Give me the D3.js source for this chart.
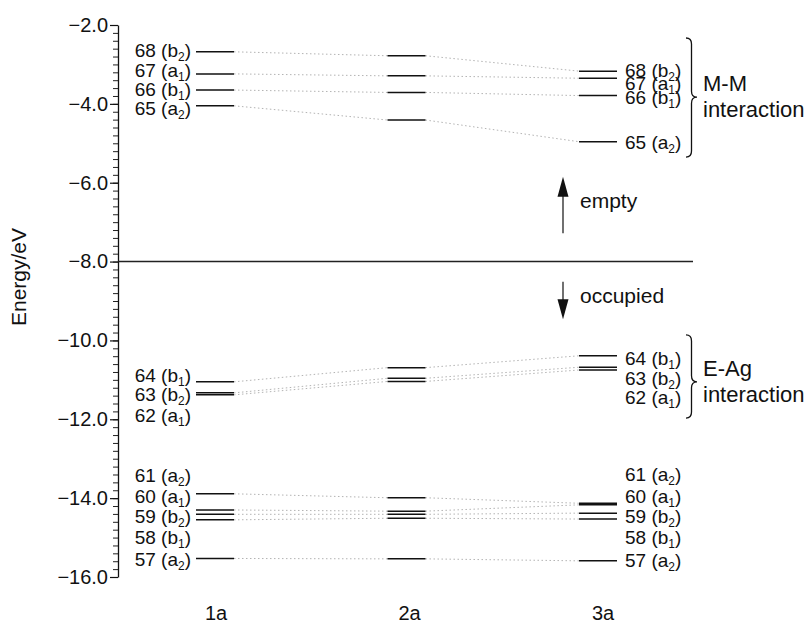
<!DOCTYPE html>
<html>
<head>
<meta charset="utf-8">
<script src="https://cdn.jsdelivr.net/npm/d3@7"></script>
<style>
  body { margin: 0; background: #fff; }
  svg text { font-family: "Liberation Sans", Arial, Helvetica, sans-serif; fill: #111; }
</style>
</head>
<body>
<div id="chart"></div>
<script>
// orbital energies (eV) for each structure, same order in each list
const columns = ['1a', '2a', '3a']
const levels1a = [-2.68, -3.24, -3.65, -4.05, -11.05, -11.33, -11.38, -13.89, -14.30, -14.41, -14.55, -15.53]
const levels2a = [-2.78, -3.29, -3.71, -4.41, -10.69, -10.96, -11.04, -13.99, -14.33, -14.41, -14.51, -15.54]
const levels3a = [-3.17, -3.35, -3.79, -4.96, -10.39, -10.68, -10.75, -14.13, -14.17, -14.38, -14.53, -15.59]

// MO labels
const moNumbers = [68, 67, 66, 65, 64, 63, 62, 61, 60, 59, 58, 57]
const moSym = ['b2', 'a1', 'b1', 'a2', 'b1', 'b2', 'a1', 'a2', 'a1', 'b2', 'b1', 'a2']
// energy where each label sits
const leftLabelE = [-2.63, -3.14, -3.62, -4.10, -10.88, -11.36, -11.89, -13.41, -13.96, -14.45, -14.98, -15.55]
const rightLabelE = [-3.15, -3.47, -3.84, -4.96, -10.45, -10.96, -11.44, -13.39, -13.96, -14.46, -14.98, -15.57]

const majorTicks = [-2, -4, -6, -8, -10, -12, -14, -16]
const fermiE = -8.0

// braces: top, bottom and tip energies, text lines
const braces = [
  {top: -2.33, bottom: -5.35, tip: -3.83, text: ['M-M', 'interaction']},
  {top: -9.86, bottom: -11.97, tip: -11.05, text: ['E-Ag', 'interaction']}
]
// arrows: from / to energies, label and its energy
const arrows = [
  {from: -7.28, to: -5.85, label: 'empty', labelE: -6.48},
  {from: -8.51, to: -9.46, label: 'occupied', labelE: -8.89}
]

const width = 811
const height = 623
const axisX = 118
const half = 19

const svg = d3.select('#chart')
  .append('svg')
  .attr('width', width)
  .attr('height', height)

const y = d3.scaleLinear().domain([-2, -16]).range([25, 577])
const x = d3.scalePoint().domain(columns).range([215, 598])
const xLab = d3.scalePoint().domain(columns).range([216, 603])

// y axis, minor ticks first
const minor = d3.range(-2, -16.01, -0.2)
svg.append('g')
  .attr('transform', `translate(${axisX},0)`)
  .call(d3.axisLeft(y).tickValues(minor).tickSize(5).tickFormat(''))
  .call(g => g.select('.domain').remove())
  .selectAll('line').attr('stroke', '#222').attr('stroke-width', 1)

svg.append('g')
  .attr('transform', `translate(${axisX},0)`)
  .call(d3.axisLeft(y).tickValues(majorTicks).tickSize(8).tickSizeOuter(0).tickPadding(2).tickFormat(d3.format('.1f')))
  .call(g => g.select('.domain').attr('stroke', '#111').attr('stroke-width', 1.3))
  .call(g => g.selectAll('line').attr('stroke', '#111').attr('stroke-width', 1.2))
  .call(g => g.selectAll('text').attr('font-size', 20).attr('fill', '#111')
    .attr('font-family', '"Liberation Sans", Arial, sans-serif'))

svg.append('text')
  .attr('transform', 'translate(26,277) rotate(-90)')
  .attr('text-anchor', 'middle')
  .attr('font-size', 21)
  .text('Energy/eV')

// fermi separator
svg.append('line')
  .attr('x1', axisX).attr('x2', 693)
  .attr('y1', y(fermiE)).attr('y2', y(fermiE))
  .attr('stroke', '#222').attr('stroke-width', 1.5)

const allLevels = [levels1a, levels2a, levels3a]

// dotted connections between neighbouring columns
for (let c = 0; c < columns.length - 1; c++) {
  svg.append('g').selectAll('line')
    .data(allLevels[c])
    .enter()
    .append('line')
    .attr('x1', x(columns[c]) + half)
    .attr('x2', x(columns[c + 1]) - half)
    .attr('y1', d => y(d))
    .attr('y2', (d, i) => y(allLevels[c + 1][i]))
    .attr('stroke', '#aaa')
    .attr('stroke-width', 0.9)
    .attr('stroke-dasharray', '1.5,2.5')
}

// level bars
columns.forEach((col, c) => {
  svg.append('g').selectAll('line')
    .data(allLevels[c])
    .enter()
    .append('line')
    .attr('x1', x(col) - half)
    .attr('x2', x(col) + half)
    .attr('y1', d => y(d))
    .attr('y2', d => y(d))
    .attr('stroke', '#111')
    .attr('stroke-width', 1.5)
})

function moLabel (sel, xPos, anchor, energies) {
  const t = sel.selectAll(null)
    .data(moNumbers)
    .enter()
    .append('text')
    .attr('x', xPos)
    .attr('y', (d, i) => y(energies[i]))
    .attr('dy', '0.36em')
    .attr('text-anchor', anchor)
    .attr('font-size', 19)
  t.append('tspan').text((d, i) => `${d} (${moSym[i][0]}`)
  t.append('tspan').attr('font-size', 12).attr('dy', 4).text((d, i) => moSym[i][1])
  t.append('tspan').attr('dy', -4).text(')')
}

moLabel(svg.append('g'), x('1a') - half - 5, 'end', leftLabelE)
moLabel(svg.append('g'), x('3a') + half + 8, 'start', rightLabelE)

// column names
svg.append('g').selectAll('text')
  .data(columns)
  .enter()
  .append('text')
  .attr('x', d => xLab(d))
  .attr('y', 620)
  .attr('text-anchor', 'middle')
  .attr('font-size', 20)
  .text(d => d)

// braces
const bx = 686
const bd = 11
const r = 6
braces.forEach(b => {
  const y0 = y(b.top)
  const y1 = y(b.bottom)
  const ym = y(b.tip)
  const xm = bx + bd / 2
  const p = `M${bx},${y0} Q${xm},${y0} ${xm},${y0 + r} L${xm},${ym - r} Q${xm},${ym} ${bx + bd},${ym}` +
    ` Q${xm},${ym} ${xm},${ym + r} L${xm},${y1 - r} Q${xm},${y1} ${bx},${y1}`
  svg.append('path')
    .attr('d', p)
    .attr('fill', 'none')
    .attr('stroke', '#111')
    .attr('stroke-width', 1.3)
  svg.append('text')
    .attr('x', 703)
    .attr('y', ym)
    .attr('font-size', 22)
    .selectAll('tspan')
    .data(b.text)
    .enter()
    .append('tspan')
    .attr('x', 703)
    .attr('dy', (d, i) => i === 0 ? -6 : 26)
    .text(d => d)
})

// arrows
const ax = 563
arrows.forEach(a => {
  const ya = y(a.from)
  const yb = y(a.to)
  const dir = yb < ya ? 1 : -1
  svg.append('line')
    .attr('x1', ax).attr('x2', ax)
    .attr('y1', ya).attr('y2', yb + dir * 15)
    .attr('stroke', '#111').attr('stroke-width', 1.2)
  svg.append('path')
    .attr('d', `M${ax},${yb} L${ax - 5.5},${yb + dir * 20} L${ax + 5.5},${yb + dir * 20} Z`)
    .attr('fill', '#111')
  svg.append('text')
    .attr('x', 580)
    .attr('y', y(a.labelE))
    .attr('dy', '0.3em')
    .attr('font-size', 21)
    .text(a.label)
})
</script>
</body>
</html>
